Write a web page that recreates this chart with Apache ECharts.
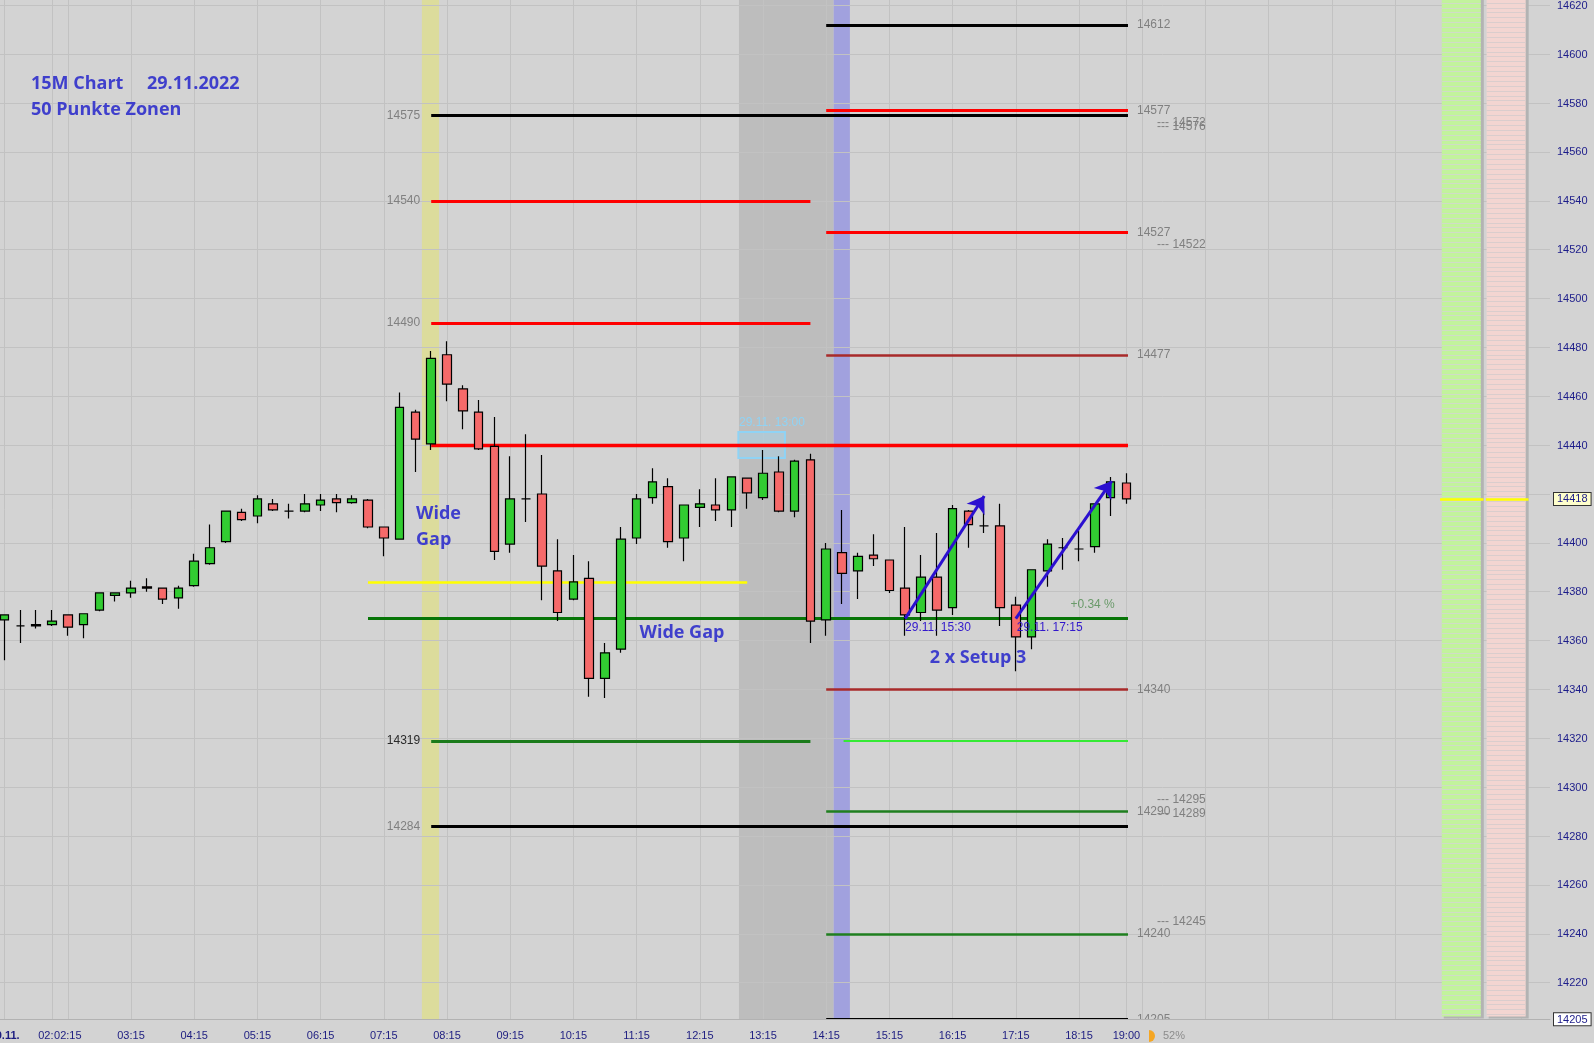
<!DOCTYPE html>
<html>
<head>
<meta charset="utf-8">
<title>15M Chart 29.11.2022</title>
<script src="https://cdn.jsdelivr.net/npm/echarts@6/dist/echarts.min.js"></script>
<style>
  html, body { margin: 0; padding: 0; background: #d3d3d3; }
  #chart { width: 1594px; height: 1043px; }
</style>
</head>
<body>
<div id="chart"></div>
<script>
// ---- 15-minute candles, 29.11.2022, 01:15 … 19:00 (index 0 … 71) ----
const open = [14368.5,14366,14366.5,14366.5,14370.5,14366.5,14372.5,14378.5,14379.5,14382,
  14381.5,14377.5,14382.5,14391.5,14400.5,14412.5,14411,14416,14413,14413,
  14415.5,14418,14416.5,14417.5,14406.5,14401.5,14453.5,14440.5,14477,14463,
  14453.5,14439.5,14399.5,14418,14420,14388.5,14377,14385.5,14344.5,14356.5,
  14402,14418.5,14423,14402,14414.5,14415.5,14413.5,14426.5,14418.5,14429,
  14413,14434,14368.5,14396,14388.5,14395,14393,14381.5,14371.5,14386,
  14373.5,14413,14407,14407,14374.5,14361.5,14388.5,14398,14397.5,14398.5,
  14418.5,14424.5];
const close = [14370.5,14366,14366,14368,14365.5,14371,14379.5,14379.5,14381.5,14381.5,
  14377,14381.5,14392.5,14398,14413,14409.5,14418,14413.5,14413,14416,
  14417.5,14416.5,14418,14406.5,14402,14455.5,14442.5,14475.5,14465,14454,
  14438.5,14396.5,14418,14418,14390.5,14371.5,14384,14344.5,14355,14401.5,
  14418,14425,14400.5,14415.5,14416,14413.5,14427,14420.5,14428.5,14413,
  14433.5,14368,14397.5,14387.5,14394.5,14393.5,14380.5,14370.5,14386,14372.5,
  14414,14407.5,14407,14373.5,14361.5,14389,14399.5,14398,14397.5,14416,
  14425,14418];
const low = [14352,14359,14365,14366,14362,14361,14372,14376,14377.5,14380,
  14375,14373,14382,14391,14400,14409,14408,14413,14410,14412.5,
  14413,14412.5,14416,14406,14394.5,14401.5,14429,14438,14458,14446.5,
  14438,14393,14396,14408.5,14376.5,14368,14376.5,14337,14336.5,14355,
  14399.5,14416,14398,14392.5,14406.5,14409,14406.5,14414,14417.5,14412.5,
  14410.5,14359,14362,14375,14377,14390.5,14379.5,14362,14368,14362,
  14370.5,14398,14404,14366,14347.5,14356.5,14382,14389,14392.5,14396,
  14411,14416];
const high = [14370.5,14372.5,14372.5,14372.5,14370.5,14371,14379.5,14379.5,14384.5,14385.5,
  14381.5,14382.5,14395.5,14407.5,14413,14414,14419.5,14418,14416,14420,
  14420,14420,14419.5,14418,14406.5,14461.5,14454.5,14478.5,14482.5,14464.5,
  14458.5,14451.5,14435.5,14444.5,14436,14401.5,14395,14392.5,14359,14406.5,
  14420,14430.5,14426.5,14415.5,14422,14426.5,14427,14426.5,14438,14435.5,
  14434,14436.5,14400,14413.5,14396,14403.5,14393,14406.5,14395,14404,
  14415.5,14413.5,14419,14416,14378,14389,14401.5,14402,14405,14416,
  14427,14428.5];

// ---- time axis ticks (candle index → label) ----
const xTickIdx  = [0, 3, 4, 8, 12, 16, 20, 24, 28, 32, 36, 40, 44, 48, 52, 56, 60, 64, 68, 71];
const xTickText = ['29.11.', '02:00', '02:15', '03:15', '04:15', '05:15', '06:15', '07:15', '08:15',
  '09:15', '10:15', '11:15', '12:15', '13:15', '14:15', '15:15', '16:15', '17:15', '18:15', '19:00'];
const xGridIdx  = [0, 3, 4, 8, 12, 16, 20, 24, 28, 32, 36, 40, 44, 48, 52, 56, 60, 64, 68, 71,
  72, 76, 80, 84, 88, 92, 96];

// ---- price axis ----
const yMin = 14205, yMax = 14622.2;
const yGrid = [14220, 14240, 14260, 14280, 14300, 14320, 14340, 14360, 14380, 14400,
  14420, 14440, 14460, 14480, 14500, 14520, 14540, 14560, 14580, 14600, 14620];
const yTickLabels = [14620, 14600, 14580, 14560, 14540, 14520, 14500, 14480, 14460, 14440,
  14400, 14380, 14360, 14340, 14320, 14300, 14280, 14260, 14240, 14220];
const lastClose = close[close.length - 1];

// ---- 50-point zones ----
const morningRed   = [14540, 14490];
const morningGreen = [14319];
const keyBlack     = [14575, 14284];
const keyRed       = 14440;
const gapTop       = 14384;
const gapBase      = 14369;
const pmBlack      = [14612, 14205];
const pmRed        = [14577, 14527];
const pmDarkRed    = [14477, 14340];
const pmGreen      = [14290, 14240];
const pmLime       = 14319;

// ---- setup arrows: [fromIdx, fromPrice, toIdx, toPrice] ----
const setups = [[57, 14369, 62, 14419.2], [64, 14369, 70.07, 14425.3]];

// ---- text notes: [text, idx, price, kind] ----
const notes = [
  ['Wide\nGap', 26.04, 14406.4, 'big'],
  ['Wide Gap', 42.87, 14363.0, 'bigC'],
  ['2 x Setup 3', 61.61, 14352.8, 'bigC'],
  ['+0.34 %', 68.86, 14374.5, 'pct'],
  ['29.11. 15:30', 56.99, 14365.4, 'stamp'],
  ['29.11. 17:15', 64.06, 14365.4, 'stamp'],
  ['29.11. 13:00', 46.48, 14449.1, 'box'],
  ['--- 14572', 72.94, 14572, 'dash'],
  ['--- 14576', 72.94, 14576, 'dashLow'],
  ['--- 14522', 72.94, 14522, 'dash'],
  ['--- 14295', 72.94, 14295, 'dash'],
  ['--- 14289', 72.94, 14289, 'dash'],
  ['--- 14245', 72.94, 14245, 'dash']
];

// ---------------------------------------------------------------------------
const FONT = "'Liberation Sans', Arial, sans-serif";
const BOLD = "'Open Sans', 'Noto Sans', sans-serif";
const NOTE_BLUE = '#3f3fcc';
const X_MIN = -0.291, X_MAX = 97.81;
const M_START = 27, M_END = 51, PM_START = 52, PM_LIME = 53.1, LINE_END = 71.1;
const GAP_START = 23, GAP_END = 47;

const candles = open.map((o, i) => [i, o, close[i], low[i], high[i]]);

function level(v, from, to, color, width, side, labelColor) {
  const first = { coord: [from, v], lineStyle: { color: color, width: width, type: 'solid' } };
  first.label = side ? {
    show: true,
    position: side === 'left' ? 'start' : 'end',
    distance: side === 'left' ? 11 : 9,
    formatter: String(v),
    color: labelColor || '#808080',
    fontSize: 12,
    fontFamily: FONT
  } : { show: false };
  return [first, { coord: [to, v] }];
}

const levelLines = [];
keyBlack.forEach(v => levelLines.push(level(v, M_START, LINE_END, '#000000', 3, 'left')));
morningRed.forEach(v => levelLines.push(level(v, M_START, M_END, '#ff0000', 3, 'left')));
morningGreen.forEach(v => levelLines.push(level(v, M_START, M_END, '#1b7b1b', 3, 'left', '#2a2a2a')));
levelLines.push(level(keyRed, M_START, LINE_END, '#ff0000', 3.3));
levelLines.push(level(gapTop, GAP_START, GAP_END, '#ffff00', 2.5));
levelLines.push(level(gapBase, GAP_START, LINE_END, '#077507', 3));
pmBlack.forEach(v => levelLines.push(level(v, PM_START, LINE_END, '#000000', 3, 'right')));
pmRed.forEach(v => levelLines.push(level(v, PM_START, LINE_END, '#ff0000', 3, 'right')));
pmDarkRed.forEach(v => levelLines.push(level(v, PM_START, LINE_END, '#a82a2a', 2.5, 'right')));
pmGreen.forEach(v => levelLines.push(level(v, PM_START, LINE_END, '#1f7f1f', 2.5, 'right')));
levelLines.push(level(pmLime, PM_LIME, LINE_END, '#35ea35', 2));
// current price marker across the order-book columns
levelLines.push(level(lastClose, 90.85, 93.6, '#ffff00', 2.5));
levelLines.push(level(lastClose, 93.75, 96.45, '#ffff00', 2.5));

const noteStyles = {
  big:    { fontSize: 18, fontWeight: 'bold', fontFamily: BOLD, color: NOTE_BLUE, align: 'left', lineHeight: 26 },
  bigC:   { fontSize: 18, fontWeight: 'bold', fontFamily: BOLD, color: NOTE_BLUE, align: 'center' },
  pct:    { fontSize: 12, fontFamily: FONT, color: '#6a9a6a', align: 'center' },
  stamp:  { fontSize: 12, fontFamily: FONT, color: '#3218cc', align: 'left' },
  box:    { fontSize: 12, fontFamily: FONT, color: '#8fd3f5', align: 'left' },
  dash:   { fontSize: 12, fontFamily: FONT, color: '#808080', align: 'left' },
  dashLow:{ fontSize: 12, fontFamily: FONT, color: '#808080', align: 'left', offset: [0, 14] }
};
const noteData = notes.map(n => ({
  value: [n[1], n[2]],
  label: Object.assign({ show: true, position: 'inside', verticalAlign: 'middle', opacity: 1, formatter: n[0] }, noteStyles[n[3]])
}));

// order-book side panels: [fromIdx, toIdx, side]
const panels = [[90.96, 93.43, 0], [93.8, 96.27, 1]];
const panelBottom = 14206.1;

const chart = echarts.init(document.getElementById('chart'), null, { renderer: 'canvas' });

chart.setOption({
  backgroundColor: '#d3d3d3',
  animation: false,
  grid: { left: 0, right: 44, top: 0, bottom: 23.7, containLabel: false, outerBoundsMode: 'none' },
  xAxis: {
    type: 'value', min: X_MIN, max: X_MAX, z: 20,
    axisLine: { show: true, onZero: false, lineStyle: { color: '#b2b2b2', width: 1 } },
    axisTick: { show: false },
    splitLine: { show: false },
    axisLabel: {
      customValues: xTickIdx,
      hideOverlap: false,
      margin: 11,
      formatter: v => {
        const k = xTickIdx.indexOf(Math.round(v));
        if (k < 0) return '';
        return (k === 0 ? '{d|' : '{t|') + xTickText[k] + '}';
      },
      rich: {
        t: { color: '#1c1c80', fontSize: 11, fontFamily: FONT, backgroundColor: '#d3d3d3' },
        d: { color: '#1c1c80', fontSize: 11, fontFamily: FONT, fontWeight: 'bold', backgroundColor: '#d3d3d3' }
      }
    }
  },
  yAxis: {
    type: 'value', position: 'right', min: yMin, max: yMax, z: 20,
    axisLine: { show: false },
    axisTick: { show: false },
    splitLine: { show: false },
    axisLabel: {
      customValues: yTickLabels.concat([lastClose, yMin]),
      hideOverlap: false,
      margin: 4,
      formatter: v => {
        if (v === lastClose) return '{cur|' + v + '}';
        if (v === yMin) return '{low|' + v + '}';
        return '{n|' + v + '}';
      },
      rich: {
        n:   { color: '#1c1c8a', fontSize: 11, fontFamily: FONT, padding: [1, 3, 0, 3] },
        cur: { color: '#1c1c8a', fontSize: 11, fontFamily: FONT, padding: [1, 3, 0, 3],
               backgroundColor: '#ffffcc', borderColor: '#333333', borderWidth: 1 },
        low: { color: '#1c1c8a', fontSize: 11, fontFamily: FONT, padding: [1, 3, 0, 3],
               backgroundColor: '#ffffff', borderColor: '#333333', borderWidth: 1 }
      }
    }
  },
  graphic: [
    { type: 'rect', z: 15, silent: true, shape: { x: 0, y: 1020, width: 1594, height: 23 }, style: { fill: '#d3d3d3' } },
    { type: 'text', z: 30, style: { x: 31, y: 84, text: '15M Chart', fill: NOTE_BLUE, font: 'bold 18px ' + BOLD, textVerticalAlign: 'middle' } },
    { type: 'text', z: 30, style: { x: 147, y: 84, text: '29.11.2022', fill: NOTE_BLUE, font: 'bold 18px ' + BOLD, textVerticalAlign: 'middle' } },
    { type: 'text', z: 30, style: { x: 31, y: 110, text: '50 Punkte Zonen', fill: NOTE_BLUE, font: 'bold 18px ' + BOLD, textVerticalAlign: 'middle' } },
    { type: 'sector', z: 30, shape: { cx: 1149, cy: 1036, r: 6, r0: 0, startAngle: -Math.PI / 2, endAngle: Math.PI / 2 }, style: { fill: '#f5a623' } },
    { type: 'text', z: 30, style: { x: 1163, y: 1036, text: '52%', fill: '#8c8c8c', font: '11px ' + FONT, textVerticalAlign: 'middle' } }
  ],
  series: [
    {
      // session shading and chart grid
      type: 'scatter', data: [], silent: true,
      markArea: {
        silent: true, z: 1, label: { show: false },
        data: [
          [{ xAxis: 46.48, itemStyle: { color: '#bdbdbd' } }, { xAxis: 52.47 }],
          [{ xAxis: 26.41, itemStyle: { color: '#dcdc9c' } }, { xAxis: 27.5 }],
          [{ xAxis: 52.47, itemStyle: { color: '#a1a1de' } }, { xAxis: 53.5 }]
        ]
      },
      markLine: {
        silent: true, z: 2, symbol: 'none', animation: false,
        label: { show: false },
        lineStyle: { color: '#c2c2c2', width: 1, type: 'solid' },
        emphasis: { disabled: true },
        data: yGrid.map(v => ({ yAxis: v })).concat(xGridIdx.map(i => ({ xAxis: i })))
      }
    },
    {
      // bid / ask panels on the right
      type: 'custom', silent: true, z: 3, data: panels,
      encode: { x: [0, 1], y: 2 },
      renderItem: (params, api) => {
        const a = api.value(0), b = api.value(1), side = api.value(2);
        const fill = side === 0 ? '#c2f39c' : '#f3d5d1';
        const stripe = side === 0 ? '#d0dcc6' : '#dacdcd';
        const tl = api.coord([a, yMax]);
        const br = api.coord([b, panelBottom]);
        const w = br[0] - tl[0], h = br[1] - tl[1];
        const children = [
          { type: 'rect', shape: { x: tl[0] + 2, y: tl[1], width: w + 1, height: h + 2 }, style: { fill: '#b3b3b3' } },
          { type: 'rect', shape: { x: tl[0], y: tl[1], width: w, height: h }, style: { fill: fill } }
        ];
        for (let v = panelBottom + 1; v < yMax; v += 2) {
          const y = Math.round(api.coord([a, v])[1]) + 0.5;
          children.push({ type: 'line', shape: { x1: tl[0], y1: y, x2: br[0], y2: y }, style: { stroke: stripe, lineWidth: 1 } });
        }
        return { type: 'group', children: children };
      }
    },
    {
      // zone lines
      type: 'scatter', data: [], silent: true,
      markArea: {
        silent: true, z: 3.5, label: { show: false },
        data: [[{ coord: [46.44, 14445.4], itemStyle: { color: 'rgba(165,212,238,0.45)', borderColor: '#8fd3f5', borderWidth: 2 } },
                { coord: [49.39, 14434.7] }]]
      },
      markLine: {
        silent: true, z: 4, symbol: 'none', animation: false,
        emphasis: { disabled: true },
        lineStyle: { type: 'solid' },
        data: levelLines
      }
    },
    {
      type: 'candlestick', name: '15M', z: 6, clip: false, silent: true,
      data: candles,
      encode: { x: 0, y: [1, 2, 3, 4] },
      barWidth: 9,
      itemStyle: {
        color: '#32cc32', color0: '#f66a6a',
        borderColor: '#000000', borderColor0: '#000000', borderColorDoji: '#000000',
        borderWidth: 1.2
      }
    },
    {
      // setup arrows
      type: 'scatter', data: [], silent: true,
      markLine: {
        silent: true, z: 7, animation: false,
        symbol: ['none', 'arrow'], symbolSize: 16,
        label: { show: false },
        emphasis: { disabled: true },
        lineStyle: { color: '#2b10d0', width: 3, type: 'solid' },
        data: setups.map(s => [{ coord: [s[0], s[1]] }, { coord: [s[2], s[3]] }])
      }
    },
    {
      type: 'scatter', z: 8, silent: true,
      symbolSize: 1, itemStyle: { color: 'rgba(0,0,0,0)', opacity: 1 },
      emphasis: { disabled: true },
      data: noteData
    }
  ]
});
</script>
</body>
</html>
